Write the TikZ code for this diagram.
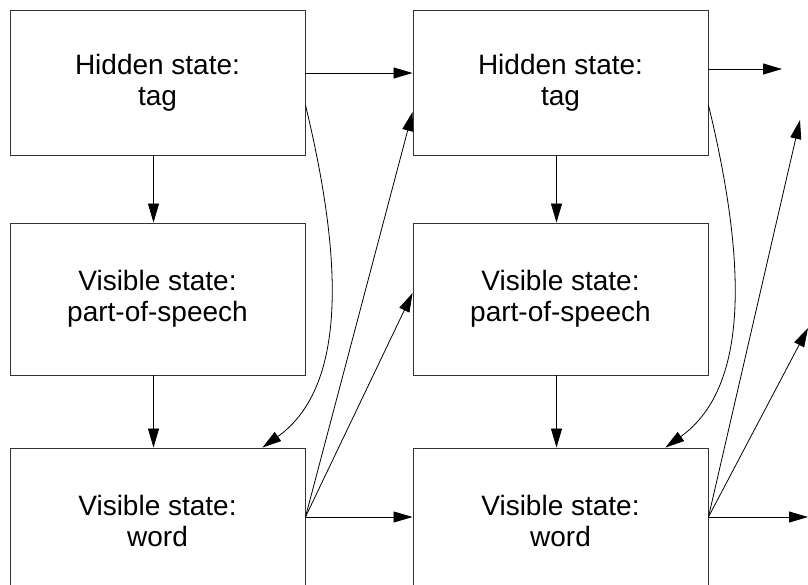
\documentclass[tikz,border=0pt]{standalone}
\usepackage{fontspec}
\setmainfont{Liberation Sans}
\usetikzlibrary{arrows.meta}

\begin{document}
\begin{tikzpicture}[
  x=1pt, y=-1pt,
  state/.style={
    draw=black!80, line width=0.9pt,
    minimum width=295pt, inner sep=0pt,
    align=center, font=\fontsize{28}{31}\selectfont
  },
  tagbox/.style={state, minimum height=145pt},
  posbox/.style={state, minimum height=152pt},
  link/.style={-{Triangle[length=19pt, width=11pt]}, line width=0.8pt}
]

\useasboundingbox (0,0) rectangle (808,584);
\clip (0,0) rectangle (808,584);

% ---- First position ----
\node[tagbox] (tag1)  at (157.5, 82.5)  {Hidden state:\\tag};
\node[posbox] (pos1)  at (157.5, 299)   {Visible state:\\part-of-speech};
\node[tagbox] (word1) at (157.5, 520.5) {Visible state:\\word};

% ---- Second position ----
\node[tagbox] (tag2)  at (560.5, 82.5)  {Hidden state:\\tag};
\node[posbox] (pos2)  at (560.5, 299)   {Visible state:\\part-of-speech};
\node[tagbox] (word2) at (560.5, 520.5) {Visible state:\\word};

% Ends leading on to the next position
\coordinate (tagout)  at (782, 69);
\coordinate (wordout) at (808, 517);
\coordinate (tagnext) at (800, 120);
\coordinate (posnext) at (808, 328);

% Emissions inside each column
\foreach \i in {1,2} {
  \draw[link] ([xshift=-4pt]tag\i.south) -- ([xshift=-4pt]pos\i.north);
  \draw[link] ([xshift=-4pt]pos\i.south) -- ([xshift=-4pt]word\i.north);
  \draw[link] ([yshift=-22.5pt]tag\i.east)
    .. controls +(35,145) and +(88,-63) .. ([xshift=-43pt]word\i.north east);
}

% Transitions tag -> tag
\draw[link] ([yshift=9.5pt]tag1.east) -- ([yshift=9.5pt]tag2.west);
\draw[link] (tag2.east |- tagout) -- (tagout);

% Transitions word -> word
\draw[link] ([yshift=3.5pt]word1.east) -- ([yshift=3.5pt]word2.west);
\draw[link] ([yshift=3.5pt]word2.east) -- (wordout);

% Word back to the next tag and part-of-speech
\draw[link] ([yshift=3.5pt]word1.east) -- ([yshift=-29.5pt]tag2.west);
\draw[link] ([yshift=3.5pt]word1.east) -- ([yshift=6pt]pos2.west);
\draw[link] ([yshift=3.5pt]word2.east) -- (tagnext);
\draw[link] ([yshift=3.5pt]word2.east) -- (posnext);

\end{tikzpicture}
\end{document}
